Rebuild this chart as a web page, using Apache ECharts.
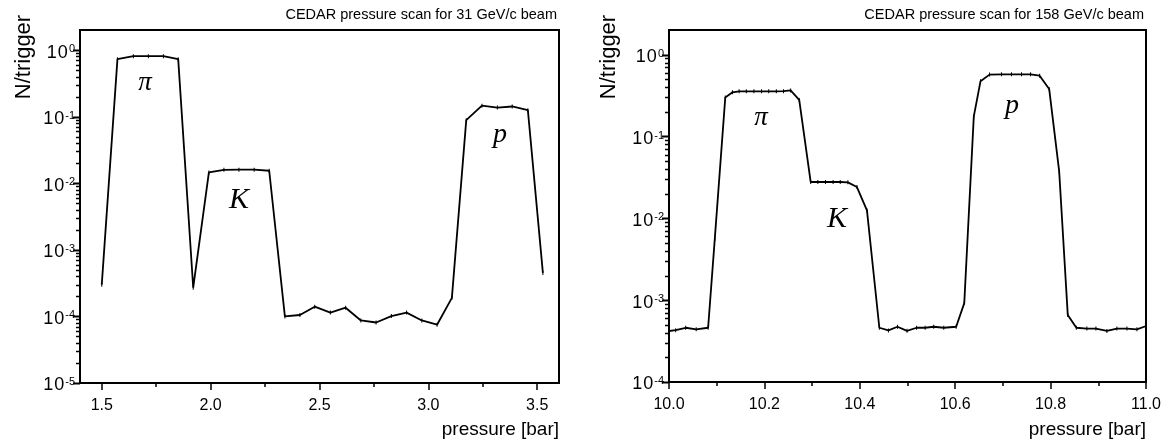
<!DOCTYPE html>
<html><head><meta charset="utf-8">
<script src="https://cdn.jsdelivr.net/npm/echarts@6/dist/echarts.min.js"></script>
<style>html,body{margin:0;padding:0;background:#fff}#c{width:1168px;height:443px}</style>
</head><body><div id="c"></div>
<script>
// ---- data ----
const pressure31 = [1.500, 1.572, 1.645, 1.714, 1.783, 1.851, 1.920, 1.992, 2.061, 2.130, 2.200, 2.269, 2.341, 2.410, 2.478, 2.550, 2.620, 2.690, 2.760, 2.830, 2.900, 2.970, 3.040, 3.108, 3.174, 3.246, 3.317, 3.385, 3.457, 3.526];
const nTrig31 = [3.0e-4, 0.73, 0.81, 0.81, 0.81, 0.73, 2.7e-4, 0.0145, 0.0159, 0.016, 0.016, 0.0154, 1.0e-4, 1.05e-4, 1.4e-4, 1.14e-4, 1.35e-4, 8.7e-5, 8.1e-5, 1.01e-4, 1.14e-4, 8.7e-5, 7.5e-5, 1.9e-4, 0.0886, 0.146, 0.137, 0.142, 0.125, 4.5e-4];
const pressure158 = [10.000, 10.014, 10.035, 10.057, 10.082, 10.096, 10.118, 10.133, 10.147, 10.162, 10.178, 10.194, 10.209, 10.225, 10.240, 10.255, 10.273, 10.297, 10.312, 10.328, 10.344, 10.359, 10.375, 10.394, 10.415, 10.441, 10.460, 10.479, 10.499, 10.519, 10.537, 10.555, 10.576, 10.602, 10.619, 10.639, 10.653, 10.672, 10.697, 10.718, 10.739, 10.758, 10.777, 10.797, 10.818, 10.836, 10.854, 10.876, 10.895, 10.918, 10.939, 10.960, 10.981, 10.999];
const nTrig158 = [4.2e-4, 4.3e-4, 4.6e-4, 4.4e-4, 4.6e-4, 5.6e-3, 0.30, 0.346, 0.356, 0.356, 0.356, 0.356, 0.356, 0.356, 0.358, 0.365, 0.28, 0.0278, 0.0278, 0.0278, 0.0278, 0.0278, 0.0275, 0.0241, 0.0125, 4.6e-4, 4.27e-4, 4.73e-4, 4.22e-4, 4.6e-4, 4.6e-4, 4.73e-4, 4.6e-4, 4.73e-4, 9.2e-4, 0.176, 0.472, 0.57, 0.575, 0.575, 0.575, 0.575, 0.553, 0.381, 0.0374, 6.6e-4, 4.6e-4, 4.5e-4, 4.5e-4, 4.2e-4, 4.5e-4, 4.5e-4, 4.4e-4, 4.8e-4];

const title31 = 'CEDAR pressure scan for 31 GeV/c beam';
const title158 = 'CEDAR pressure scan for 158 GeV/c beam';
const xName = 'pressure [bar]';
const yName = 'N/trigger';
const particleLabels = ['\u03c0', 'K', 'p'];

const xRange31 = [1.4, 3.6];
const xRange158 = [10.0, 11.0];
const yRange31 = [1e-5, 2];
const yRange158 = [1e-4, 2];
const xMajor31 = [1.5, 2.0, 2.5, 3.0, 3.5];
const xMinor31 = [1.75, 2.25, 2.75, 3.25];
const xMajor158 = [10.0, 10.2, 10.4, 10.6, 10.8, 11.0];
const xMinor158 = [10.1, 10.3, 10.5, 10.7, 10.9];
const yMajor31 = [1e-5, 1e-4, 1e-3, 1e-2, 1e-1, 1];
const yMajor158 = [1e-4, 1e-3, 1e-2, 1e-1, 1];
const minorMult = [2, 3, 4, 5, 6, 7, 8, 9];

function minors(majors) {
  const out = [];
  majors.slice(0, -1).forEach(d => minorMult.forEach(m => out.push(+(m * d).toPrecision(3))));
  return out;
}

const FONT = '"Liberation Sans", Arial, sans-serif';
const SERIF = '"Liberation Serif", "Times New Roman", serif';

const grids = [
  { left: 80, top: 30, width: 479, height: 353 },
  { left: 669, top: 30, width: 477, height: 352 }
];

function yFmt(v) {
  const e = Math.round(Math.log10(v));
  return '{a|1}{b|0}{s|' + e + '}';
}

function yAxis(g, majors, range) {
  const base = { fontSize: 18, fontFamily: FONT, color: '#000', lineHeight: 18, verticalAlign: 'top' };
  return { type: 'log', logBase: 10, gridIndex: g, min: range[0], max: range[1], position: 'left',
    splitLine: { show: false }, minorTick: { show: false },
    axisLine: { show: true, lineStyle: { color: '#000', width: 2 } },
    axisTick: { show: false },
    axisLabel: { show: true, customValues: majors, margin: 5, formatter: yFmt, color: '#000',
      padding: [5, 0, 0, 0],
      rich: {
        a: Object.assign({}, base, { padding: [0, 1, 0, 0] }),
        b: Object.assign({}, base, { padding: [0, 1, 0, 0] }),
        s: { fontSize: 11, fontFamily: FONT, color: '#000', lineHeight: 11, verticalAlign: 'top' }
      } }
  };
}

function xAxes(g, majors, minorsArr, range) {
  const common = { type: 'value', gridIndex: g, min: range[0], max: range[1], position: 'bottom',
    splitLine: { show: false } };
  return [
    Object.assign({}, common, {
      axisLine: { show: true, onZero: false, lineStyle: { color: '#000', width: 2 } },
      axisTick: { show: true, length: 7, lineStyle: { color: '#000', width: 1.5 }, customValues: majors },
      axisLabel: { show: true, customValues: majors, margin: 15, color: '#000', fontSize: 16, fontFamily: FONT,
        formatter: v => v.toFixed(1) }
    }),
    Object.assign({}, common, {
      axisLine: { show: false, onZero: false },
      axisTick: { show: true, length: 4, lineStyle: { color: '#000', width: 1.5 }, customValues: minorsArr },
      axisLabel: { show: false }
    })
  ];
}

function lineSeries(xi, yi, xs, ys) {
  return {
    type: 'line', xAxisIndex: xi, yAxisIndex: yi,
    data: xs.map((x, i) => [x, ys[i]]),
    symbol: 'rect', symbolSize: [1, 4], showSymbol: true, showAllSymbol: true,
    lineStyle: { color: '#000', width: 1.8 }, itemStyle: { color: '#000' },
    silent: true, animation: false, z: 3
  };
}

function txt(x, y, text, font, align, vAlign, rot) {
  return { type: 'text', x: x, y: y, rotation: rot || 0, silent: true,
    style: { text: text, font: font, fill: '#000', align: align, verticalAlign: vAlign } };
}

const option = {
  animation: false,
  backgroundColor: '#fff',
  grid: grids.map(g => Object.assign({ show: true, borderColor: '#000', borderWidth: 2, backgroundColor: 'transparent', containLabel: false }, g)),
  xAxis: [].concat(xAxes(0, xMajor31, xMinor31, xRange31), xAxes(1, xMajor158, xMinor158, xRange158)),
  yAxis: [yAxis(0, yMajor31, yRange31), yAxis(1, yMajor158, yRange158)],
  series: [
    lineSeries(0, 0, pressure31, nTrig31),
    lineSeries(2, 1, pressure158, nTrig158)
  ],
  graphic: [
    txt(557, 15, title31, '14.5px ' + FONT, 'right', 'middle'),
    txt(1144, 15, title158, '14.5px ' + FONT, 'right', 'middle'),
    txt(559, 430, xName, '19px ' + FONT, 'right', 'middle'),
    txt(1146, 430, xName, '19px ' + FONT, 'right', 'middle'),
    txt(24, 57, yName, '22px ' + FONT, 'center', 'middle', Math.PI / 2),
    txt(609, 57, yName, '22px ' + FONT, 'center', 'middle', Math.PI / 2),
    txt(145, 83, particleLabels[0], 'italic 27px ' + SERIF, 'center', 'middle'),
    txt(239, 200, particleLabels[1], 'italic 30px ' + SERIF, 'center', 'middle'),
    txt(500, 135, particleLabels[2], 'italic 28px ' + SERIF, 'center', 'middle'),
    txt(761, 118, particleLabels[0], 'italic 27px ' + SERIF, 'center', 'middle'),
    txt(837, 219, particleLabels[1], 'italic 30px ' + SERIF, 'center', 'middle'),
    txt(1012, 106, particleLabels[2], 'italic 28px ' + SERIF, 'center', 'middle')
  ]
};

const chart = echarts.init(document.getElementById('c'), null, { renderer: 'canvas' });
chart.setOption(option);

// log-axis ticks (major and 2..9 minor), positioned through the library's axis scale
const tickEls = [];
[
  { xi: 0, yi: 0, xMin: xRange31[0], majors: yMajor31 },
  { xi: 2, yi: 1, xMin: xRange158[0], majors: yMajor158 }
].forEach(cfg => {
  const add = (v, len, w) => {
    const p = chart.convertToPixel({ xAxisIndex: cfg.xi, yAxisIndex: cfg.yi }, [cfg.xMin, v]);
    if (!p) return;
    const y = Math.round(p[1]) + 0.5;
    tickEls.push({ type: 'line', silent: true, z: 10,
      shape: { x1: p[0] - len, y1: y, x2: p[0], y2: y },
      style: { stroke: '#000', lineWidth: w } });
  };
  cfg.majors.forEach(v => add(v, 7, 2));
  minors(cfg.majors).forEach(v => add(v, 4, 1.5));
});
chart.setOption({ graphic: option.graphic.concat(tickEls) });
</script>
</body></html>
